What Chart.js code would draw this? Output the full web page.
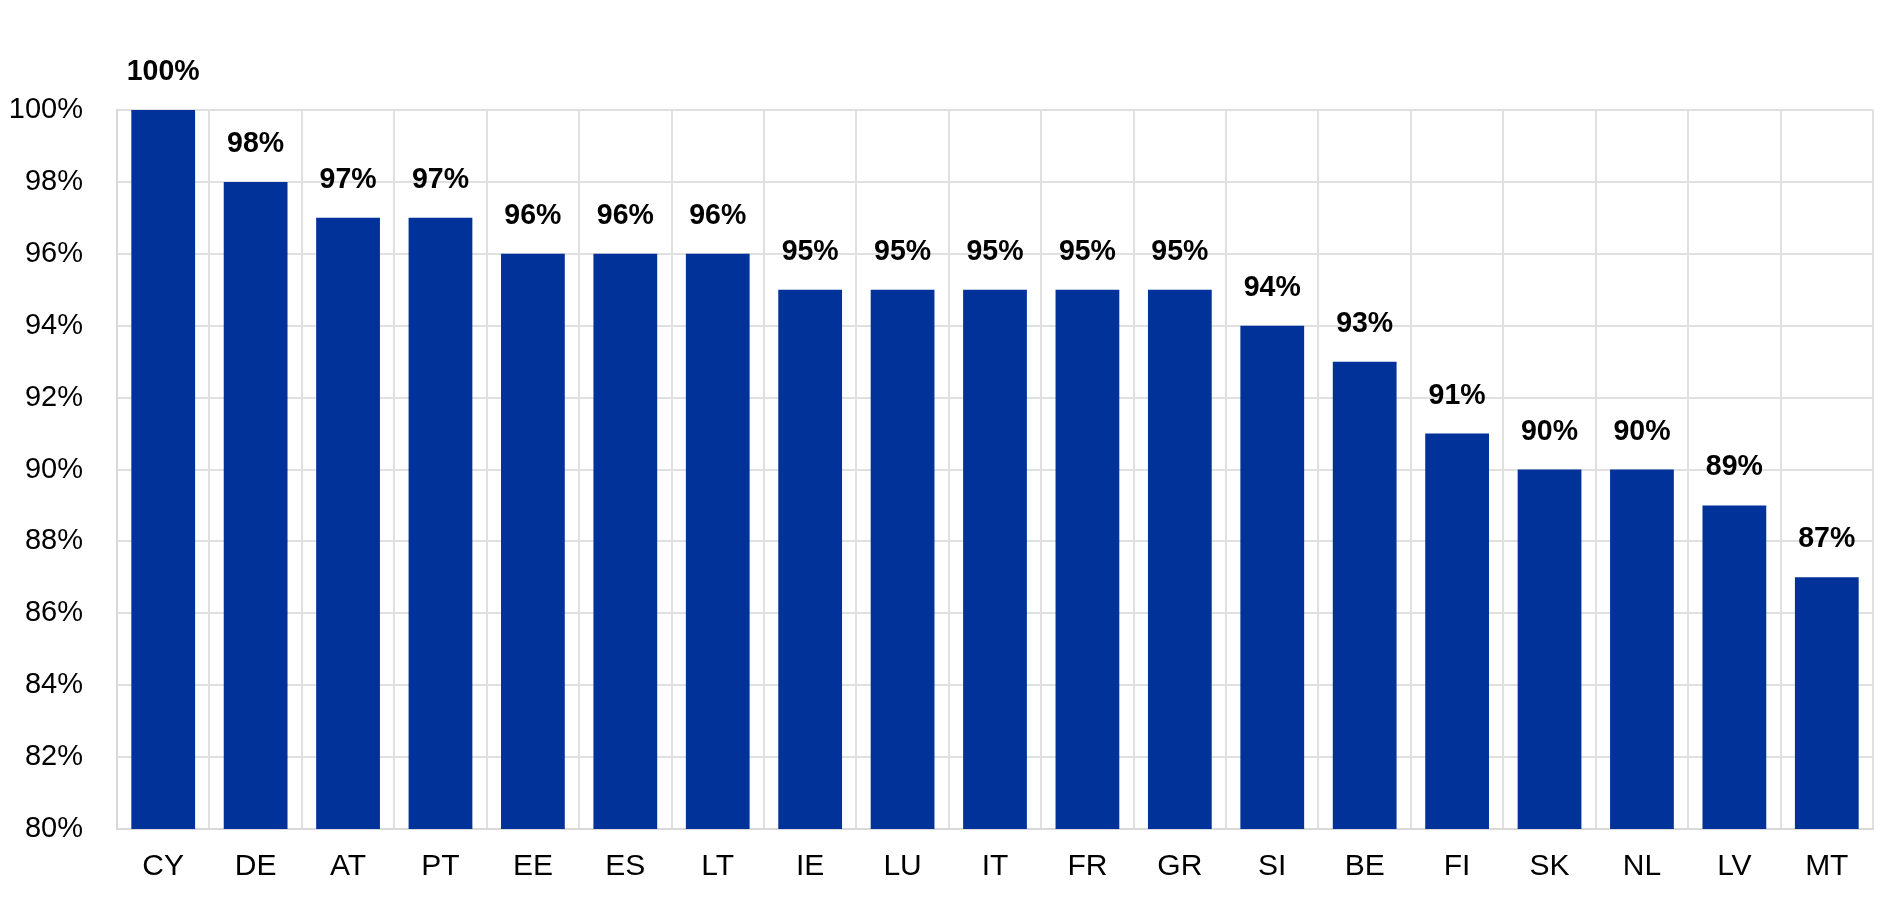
<!DOCTYPE html>
<html>
<head>
<meta charset="utf-8">
<style>
    html, body { margin: 0; padding: 0; background: #fff; }
    #wrap { width: 1904px; height: 900px; }
</style>
<script src="https://cdn.jsdelivr.net/npm/chart.js@4/dist/chart.umd.min.js"></script>
</head>
<body>
<div id="wrap"><canvas id="share-chart"></canvas></div>
<script>
    // countries, sorted by share
    const countries = ['CY', 'DE', 'AT', 'PT', 'EE', 'ES', 'LT', 'IE', 'LU', 'IT', 'FR', 'GR', 'SI', 'BE', 'FI', 'SK', 'NL', 'LV', 'MT'];
    const shares = [100, 98, 97, 97, 96, 96, 96, 95, 95, 95, 95, 95, 94, 93, 91, 90, 90, 89, 87];
    const yTicks = [80, 82, 84, 86, 88, 90, 92, 94, 96, 98, 100];

    const BLUE = '#003299';
    const GRID = '#e0e0e0';
    const FONT = 'Liberation Sans, Arial, sans-serif';

    // value labels above each bar
    const valueLabels = {
        id: 'valueLabels',
        afterDatasetsDraw(chart) {
            const ctx = chart.ctx;
            const meta = chart.getDatasetMeta(0);
            ctx.save();
            ctx.font = 'bold 30px ' + FONT;
            ctx.fillStyle = '#000';
            ctx.textAlign = 'center';
            ctx.textBaseline = 'alphabetic';
            meta.data.forEach((bar, i) => {
                ctx.save();
                ctx.translate(bar.x, bar.y - 30);
                ctx.scale(0.95, 1); // reference digits are a bit narrow
                ctx.fillText(Math.round(shares[i]) + '%', 0, 0);
                ctx.restore();
            });
            ctx.restore();
        }
    };

    new Chart(document.getElementById('share-chart'), {
        type: 'bar',
        data: {
            labels: countries,
            datasets: [{
                data: shares,
                backgroundColor: BLUE,
                borderWidth: 0,
                barPercentage: 0.69,
                categoryPercentage: 1.0
            }]
        },
        options: {
            responsive: true,
            maintainAspectRatio: false,
            animation: false,
            layout: { padding: { top: 110, right: 31, bottom: 0, left: 0 } },
            plugins: {
                legend: { display: false },
                tooltip: { enabled: false }
            },
            scales: {
                x: {
                    grid: { color: GRID, lineWidth: 2, drawTicks: false, offset: true },
                    border: { color: '#d9d9d9', width: 2 },
                    ticks: { color: '#000', font: { family: FONT, size: 30 }, padding: 20, maxRotation: 0 },
                    afterFit(scale) { scale.height = 71; }
                },
                y: {
                    min: 80,
                    max: 100,
                    afterBuildTicks(scale) { scale.ticks = yTicks.map(v => ({ value: v })); },
                    grid: { color: GRID, lineWidth: 2, drawTicks: false },
                    border: { color: '#d9d9d9', width: 2 },
                    ticks: {
                        color: '#000',
                        font: { family: FONT, size: 29 },
                        padding: 34,
                        callback: v => v + '%'
                    },
                    afterFit(scale) { scale.width = 117; }
                }
            }
        },
        plugins: [valueLabels]
    });
</script>
</body>
</html>
